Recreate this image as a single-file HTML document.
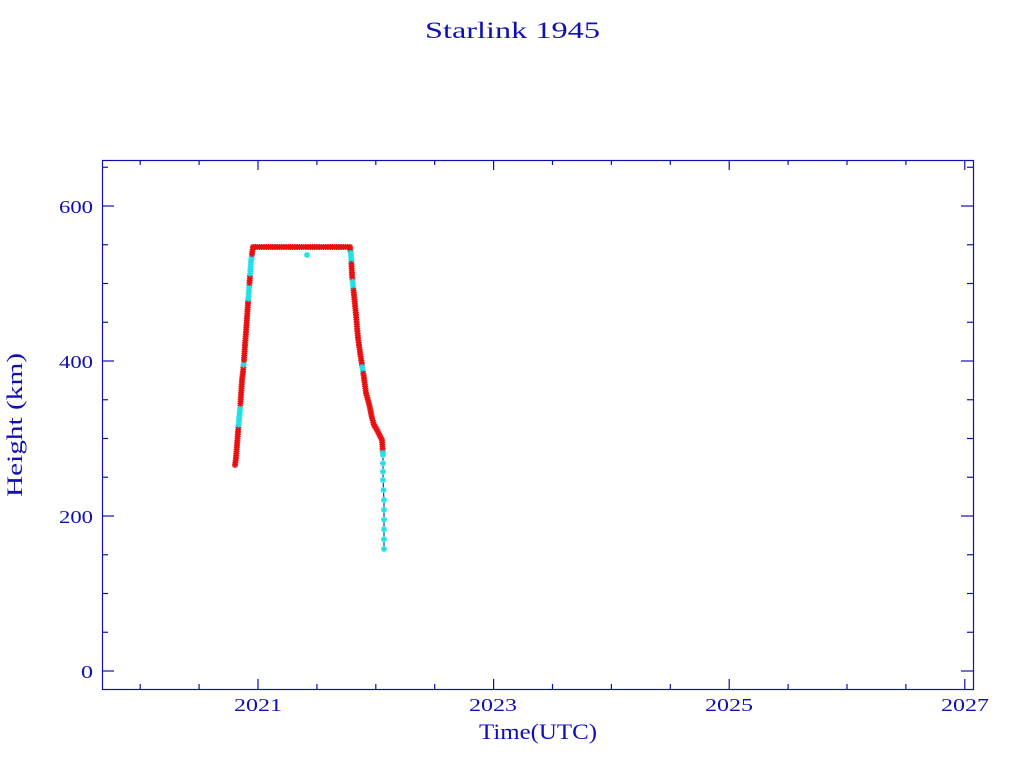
<!DOCTYPE html>
<html><head><style>
body{margin:0;background:#fff;width:1024px;height:768px;overflow:hidden}
svg text{font-family:"Liberation Serif",serif;fill:#1010b0}
</style></head><body>
<svg id="s" width="1024" height="768" xmlns="http://www.w3.org/2000/svg">
<text x="425" y="38" font-size="23" textLength="175" lengthAdjust="spacingAndGlyphs">Starlink 1945</text>
<text x="479" y="739" font-size="22" textLength="118" lengthAdjust="spacingAndGlyphs">Time(UTC)</text>
<text transform="translate(22,497) rotate(-90)" font-size="22" textLength="144" lengthAdjust="spacingAndGlyphs">Height (km)</text>
<g font-size="18">
<text x="59" y="213" textLength="34" lengthAdjust="spacingAndGlyphs">600</text>
<text x="59" y="368" textLength="34" lengthAdjust="spacingAndGlyphs">400</text>
<text x="59" y="523" textLength="34" lengthAdjust="spacingAndGlyphs">200</text>
<text x="81" y="678" textLength="12" lengthAdjust="spacingAndGlyphs">0</text>
</g>
<g font-size="18">
<text x="234" y="711" textLength="48" lengthAdjust="spacingAndGlyphs">2021</text>
<text x="469" y="711" textLength="48" lengthAdjust="spacingAndGlyphs">2023</text>
<text x="705" y="711" textLength="48" lengthAdjust="spacingAndGlyphs">2025</text>
<text x="941" y="711" textLength="48" lengthAdjust="spacingAndGlyphs">2027</text>
</g>
<rect x="102.5" y="160.5" width="871" height="529" fill="none" stroke="#1010b0" stroke-width="1.2"/>
<g id="ticks" stroke="#1010b0" stroke-width="1.2"></g>
<g id="data"></g>
</svg>
<script>
var NS="http://www.w3.org/2000/svg";
var t=document.getElementById('ticks'),d=document.getElementById('data');
function L(x1,y1,x2,y2,p,c,w){var l=document.createElementNS(NS,'line');l.setAttribute('x1',x1);l.setAttribute('y1',y1);l.setAttribute('x2',x2);l.setAttribute('y2',y2);if(c){l.setAttribute('stroke',c);l.setAttribute('stroke-width',w||1);}p.appendChild(l);}
for(var i=0;i<16;i++){var yr=2020+i*0.5;var x=258+(yr-2021)*117.8;if(x<=103||x>=973)continue;var maj=(yr%2==1);var len=maj?10:5;L(x,689,x,689-len,t);L(x,160,x,160+len,t);}
for(var v=0;v<=650;v+=50){var y=671-v*0.775;if(y<=160)continue;var len=(v%200==0)?12:6;L(102,y,102+len,y,t);L(973,y,973-len,y,t);}
var pts=[[235,465],[236,458],[237,445],[238,432],[239,420],[240,410],[241,395],[242,380],[243,372],[244,360],[245,345],[246,332],[247,318],[248,303],[249,290],[250,276],[251,262],[252,254],[253,247],[350,247],[351,255],[352,275],[354,295],[356,315],[358,338],[360,352],[362,365],[364,378],[366,393],[368,400],[370,408],[372,418],[374,425],[377,430],[380,436],[382,440],[383,455],[383,480],[384,500],[384,549]];
var pl=document.createElementNS(NS,'polyline');pl.setAttribute('points',pts.map(function(p){return p.join(',')}).join(' '));pl.setAttribute('fill','none');pl.setAttribute('stroke','#0000a0');pl.setAttribute('stroke-width','1');d.appendChild(pl);
function cyanAt(x,y){ if(x<260){return (y>405&&y<425)||(y>255&&y<275)||(y>285&&y<300)||(y>360&&y<366);} return (y>452)||(y>365&&y<372)||(y>252&&y<262)||(y>280&&y<290);}
function M(x,y,c){var g=document.createElementNS(NS,'g');L(x-3,y,x+3,y,g,c,1.5);L(x,y-3,x,y+3,g,c,1.5);L(x-2.3,y-2.3,x+2.3,y+2.3,g,c,1.3);L(x-2.3,y+2.3,x+2.3,y-2.3,g,c,1.3);d.appendChild(g);}
for(var k=0;k<pts.length-1;k++){var a=pts[k],b=pts[k+1];var dist=Math.hypot(b[0]-a[0],b[1]-a[1]);
 var isTail=(a[1]>=455&&a[0]>380);var step=isTail?9:2.2;var n=Math.max(1,Math.round(dist/step));
 for(var j=0;j<n;j++){var x=a[0]+(b[0]-a[0])*j/n,y=a[1]+(b[1]-a[1])*j/n;M(x,y,cyanAt(x,y)?'#20e0e8':'#e81010');}}
M(384,549,'#20e0e8');M(307,255,'#20e0e8');
</script>
</body></html>
